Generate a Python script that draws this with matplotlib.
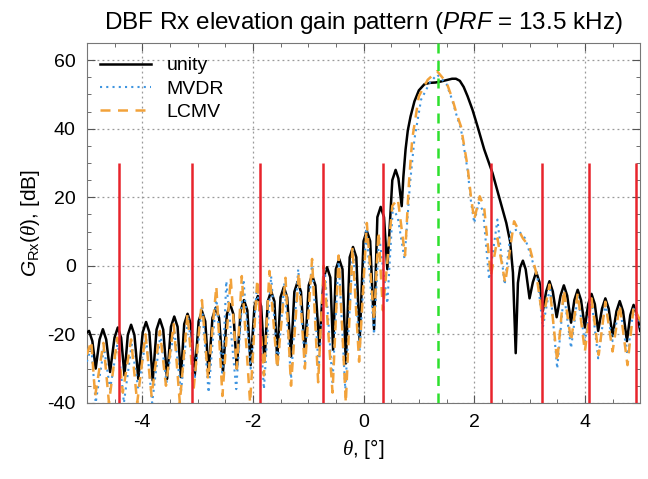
import numpy as np
import matplotlib
matplotlib.use("Agg")
import matplotlib.pyplot as plt
from matplotlib.ticker import MultipleLocator

plt.rcParams['font.family'] = ['Liberation Sans', 'DejaVu Sans']
plt.rcParams['mathtext.fontset'] = 'custom'
plt.rcParams['mathtext.rm'] = 'Liberation Sans'
plt.rcParams['mathtext.it'] = 'Liberation Sans:italic'
plt.rcParams['mathtext.cal'] = 'Liberation Serif:italic'
plt.rcParams['axes.unicode_minus'] = False

# Rx gain pattern of the unity-weighted beam (deg, dB)
unity_theta = [
    -5.00, -4.96, -4.90, -4.84,
    -4.77, -4.71, -4.65, -4.58,
    -4.50, -4.44, -4.38, -4.32,
    -4.26, -4.20, -4.14, -4.07,
    -3.99, -3.93, -3.87, -3.81,
    -3.74, -3.68, -3.62, -3.55,
    -3.48, -3.42, -3.36, -3.30,
    -3.24, -3.18, -3.12, -3.05,
    -2.98, -2.92, -2.86, -2.80,
    -2.73, -2.67, -2.61, -2.54,
    -2.47, -2.41, -2.35, -2.29,
    -2.22, -2.16, -2.10, -2.04,
    -1.97, -1.91, -1.85, -1.79,
    -1.73, -1.67, -1.61, -1.56,
    -1.50, -1.44, -1.38, -1.31,
    -1.25, -1.19, -1.13, -1.06,
    -0.99, -0.93, -0.87, -0.80,
    -0.72, -0.66, -0.60, -0.55,
    -0.50, -0.44, -0.38, -0.32,
    -0.25, -0.19, -0.13, -0.07,
    0.00, 0.06, 0.12, 0.19,
    0.25, 0.31, 0.37, 0.43,
    0.52, 0.58, 0.63, 0.69,
    0.72, 0.76, 0.80, 0.85, 0.92, 1.00, 1.10, 1.20, 1.30, 1.40, 1.50,
    1.60, 1.67, 1.74, 1.81, 1.88, 1.97, 2.06, 2.18, 2.33, 2.48, 2.58,
    2.65, 2.70, 2.75,
    2.79, 2.83, 2.88, 2.93, 3.00,
    3.06, 3.12, 3.18, 3.24,
    3.30, 3.36, 3.42, 3.49,
    3.56, 3.62, 3.68, 3.75,
    3.81, 3.87, 3.93, 4.00,
    4.06, 4.12, 4.18, 4.24,
    4.31, 4.37, 4.43, 4.50,
    4.57, 4.63, 4.69, 4.76,
    4.82, 4.88, 4.94, 5.00,
]
unity_db = [
    -19.5, -19.0, -22.0, -30.0,
    -21.5, -18.5, -21.5, -31.0,
    -21.0, -18.0, -21.0, -32.0,
    -20.2, -17.2, -20.2, -33.0,
    -19.4, -16.4, -19.4, -33.5,
    -18.6, -15.6, -18.6, -33.0,
    -17.8, -14.8, -17.8, -32.5,
    -17.0, -14.0, -17.0, -32.0,
    -16.2, -13.2, -16.2, -31.5,
    -15.2, -12.2, -15.2, -31.0,
    -14.2, -11.2, -14.2, -30.0,
    -13.0, -10.0, -13.0, -29.0,
    -11.8, -8.8, -11.8, -28.0,
    -10.4, -7.4, -10.4, -27.5,
    -9.2, -6.2, -9.2, -26.5,
    -7.6, -4.6, -7.6, -25.5,
    -5.7, -2.7, -5.7, -23.5,
    -3.4, -0.4, -3.4, -24.5,
    -1.0, 2.0, -1.0, -28.5,
    2.5, 5.5, 2.5, -22.0,
    7.2, 10.2, 7.2, -18.5,
    14.2, 17.2, 14.2, -1.0,
    25.0, 28.0, 25.5, 17.4,
    26.0, 34.0, 39.5, 43.6, 48.0, 51.2, 53.0, 53.4, 53.5, 53.8, 54.2,
    54.6, 54.6, 54.0, 52.2, 49.5, 45.5, 40.7, 34.0, 27.1, 18.4, 12.5,
    7.0, -2.0, -25.5,
    -5.0, -0.5, 1.5, -1.0, -9.5,
    -4.8, -1.8, -4.8, -13.2,
    -7.5, -4.5, -7.5, -15.0,
    -8.7, -5.7, -8.7, -16.6,
    -10.0, -7.0, -10.0, -18.0,
    -11.2, -8.2, -11.2, -19.0,
    -12.5, -9.5, -12.5, -20.5,
    -13.3, -10.3, -13.3, -22.0,
    -14.4, -11.4, -14.4, -19.0,
]

# MVDR beamformer pattern
mvdr_theta = [
    -5.00, -4.92, -4.84, -4.69, -4.58, -4.44, -4.33, -4.19, -4.07, -3.93,
    -3.82, -3.67, -3.56, -3.42, -3.30, -3.17, -3.05, -2.92, -2.80, -2.66,
    -2.55, -2.48, -2.30, -2.17, -2.04, -1.92, -1.80, -1.67, -1.55, -1.43,
    -1.31, -1.18, -1.06, -0.93, -0.81, -0.70, -0.56, -0.45, -0.33, -0.19,
    -0.07, 0.05, 0.19, 0.28, 0.43, 0.53, 0.62, 0.74, 0.84, 0.92,
    1.04, 1.20, 1.33, 1.50, 1.60, 1.68, 1.76, 1.88, 1.94, 2.00,
    2.08, 2.16, 2.27, 2.42, 2.55, 2.66, 2.78, 2.92, 3.02, 3.14,
    3.24, 3.37, 3.50, 3.62, 3.75, 3.87, 4.00, 4.12, 4.24, 4.37,
    4.50, 4.63, 4.77, 4.88, 5.00,
]
mvdr_db = [
    -28.0, -23.5, -40.0, -24.0, -36.0, -22.0, -40.0, -23.0, -36.0, -21.0,
    -40.0, -20.0, -34.0, -18.5, -37.0, -15.0, -33.0, -11.5, -37.0, -9.0,
    -32.0, -4.5, -36.0, -4.0, -30.0, -5.0, -36.0, -3.0, -29.0, -5.0,
    -33.0, -1.0, -28.0, 1.0, -30.0, -1.0, -34.0, 2.0, -36.0, 5.0,
    -25.0, 11.0, -20.0, 9.0, -11.0, 17.0, 14.0, 2.0, 24.0, 37.0,
    48.5, 53.5, 55.8, 53.0, 48.5, 44.0, 40.0, 28.0, 19.0, 12.5,
    18.4, 16.0, -4.0, 13.5, -5.5, 10.0, 10.6, 8.0, 3.0, -3.0,
    -18.0, -6.0, -30.0, -8.0, -24.0, -9.0, -22.0, -10.0, -27.0, -11.0,
    -22.0, -12.0, -26.0, -12.5, -18.0,
]

# LCMV beamformer pattern
lcmv_theta = [
    -5.00, -4.92, -4.85, -4.70, -4.60, -4.45, -4.35, -4.20, -4.09, -3.94,
    -3.83, -3.68, -3.57, -3.43, -3.32, -3.18, -3.07, -2.92, -2.81, -2.66,
    -2.55, -2.40, -2.29, -2.20, -2.05, -1.92, -1.80, -1.70, -1.56, -1.41,
    -1.31, -1.17, -1.06, -0.93, -0.82, -0.72, -0.56, -0.45, -0.32, -0.20,
    -0.08, 0.06, 0.19, 0.27, 0.35, 0.52, 0.62, 0.75, 0.82, 0.88,
    1.00, 1.16, 1.33, 1.50, 1.60, 1.68, 1.76, 1.88, 1.94, 2.00,
    2.10, 2.18, 2.30, 2.42, 2.56, 2.72, 2.88, 3.00, 3.12, 3.24,
    3.36, 3.50, 3.62, 3.75, 3.87, 4.00, 4.12, 4.25, 4.37, 4.50,
    4.63, 4.77, 4.88, 5.00,
]
lcmv_db = [
    -26.0, -22.0, -38.0, -22.5, -40.0, -21.0, -37.0, -21.5, -40.0, -20.0,
    -38.0, -19.0, -35.0, -17.0, -40.0, -14.0, -36.0, -10.0, -33.0, -6.0,
    -38.0, -3.5, -30.0, -3.0, -40.0, -4.0, -32.0, -1.5, -30.0, -3.5,
    -35.0, -2.0, -30.0, 2.0, -34.0, 0.0, -37.0, 3.0, -40.0, 5.5,
    -28.0, 12.5, -16.0, 10.0, -13.0, 17.5, 19.5, 3.0, 24.0, 37.0,
    49.5, 54.3, 56.8, 53.5, 49.0, 44.5, 40.7, 29.0, 20.3, 13.5,
    20.3, 17.0, -3.0, 8.0, -5.0, 13.0, 8.0, 5.5, -2.0, -16.0,
    -5.5, -28.0, -7.0, -22.0, -8.0, -25.0, -9.5, -26.0, -10.5, -25.0,
    -11.5, -29.0, -12.0, -16.0,
]

# ambiguity directions (red) and beam pointing direction (green)
ambig_theta = [-4.42, -3.10, -1.87, -0.73, 0.35, 2.31, 3.22, 4.08, 4.92]
ambig_top = 30
steer_theta = 1.35

fig = plt.figure(figsize=(6.48, 4.79), dpi=100)
ax = fig.add_axes([0.134, 0.159, 0.854, 0.751])

ax.plot(unity_theta, unity_db, color='black', lw=1.8, label='unity', zorder=3)
ax.plot(mvdr_theta, mvdr_db, color='#3f95e0', lw=1.5, ls=(0, (1, 2)),
        label='MVDR', zorder=4)
ax.plot(lcmv_theta, lcmv_db, color='#f2a23a', lw=1.8, ls=(0, (4, 3)),
        label='LCMV', zorder=4)

ax.vlines(ambig_theta, -40, ambig_top, color='#e8242c', lw=1.8, zorder=5)
ax.axvline(steer_theta, color='#2ee02e', lw=1.8, ls=(0, (4, 3)), zorder=5)

ax.set_xlim(-5, 5)
ax.set_ylim(-40, 65)
ax.xaxis.set_major_locator(MultipleLocator(2))
ax.xaxis.set_minor_locator(MultipleLocator(0.5))
ax.yaxis.set_major_locator(MultipleLocator(20))
ax.yaxis.set_minor_locator(MultipleLocator(5))
ax.tick_params(which='both', direction='in', top=True, right=True,
               color='#555555')
ax.tick_params(which='major', length=6, labelsize=14, pad=8)
ax.tick_params(which='minor', length=3)
ax.grid(True, which='major', ls=(0, (1.5, 2.5)), color='#999999', lw=0.9)
for sp in ax.spines.values():
    sp.set_color('#777777')

ax.set_xlabel(r'$\mathcal{\theta}$, [°]', fontsize=15)
ax.set_ylabel(r'$G_{\rm Rx}(\mathcal{\theta})$, [dB]', fontsize=15)
ax.set_title(r'DBF Rx elevation gain pattern ($PRF$ = 13.5 kHz)',
             fontsize=17.5, pad=10)

ax.legend(loc='upper left', frameon=False, fontsize=14, handlelength=2.6,
          borderaxespad=0.3, labelspacing=0.3)

fig.savefig('out.png', dpi=100)
